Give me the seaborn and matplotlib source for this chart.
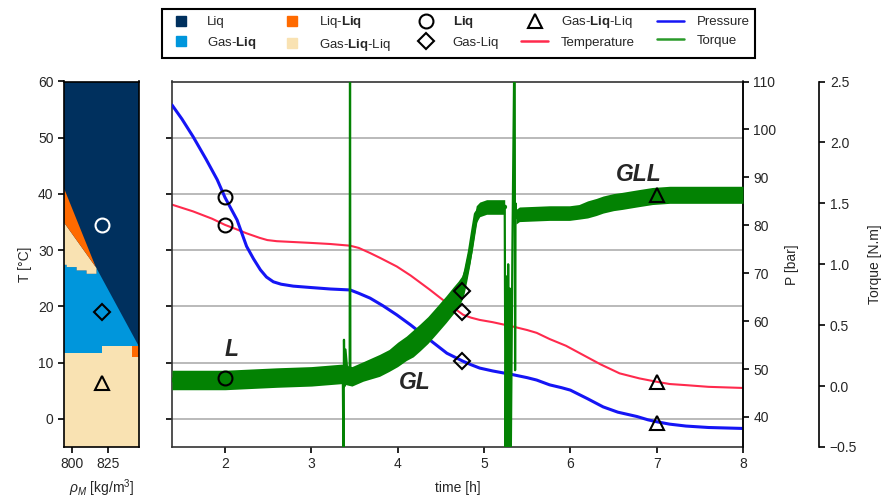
import numpy as np
import matplotlib
matplotlib.use("Agg")
import matplotlib.pyplot as plt
import seaborn as sns
from matplotlib.lines import Line2D

# ---------------- data ----------------
time_pressure = [1.386, 1.50, 1.63, 1.78, 1.91, 2.0, 2.14, 2.25, 2.33, 2.41, 2.48, 2.56, 2.65, 2.79,
                 3.0, 3.22, 3.45, 3.55, 3.68, 3.83, 3.99, 4.15, 4.37, 4.57, 4.76, 4.85, 4.95,
                 5.1, 5.34, 5.5, 5.61, 5.76, 5.9, 6.0, 6.2, 6.38, 6.55, 6.77, 6.9, 7.0, 7.15,
                 7.34, 7.6, 8.0]
pressure = [105.1, 102.2, 98.5, 93.8, 89.5, 85.8, 81.1, 75.6, 73.0, 70.7, 69.2, 68.2, 67.7, 67.3,
            67.0, 66.7, 66.5, 65.8, 64.8, 63.2, 61.3, 59.2, 56.1, 53.3, 51.6, 50.9, 50.2,
            49.6, 48.8, 48.2, 47.7, 46.7, 46.1, 45.6, 43.8, 42.1, 41.0, 40.1, 39.4, 39.0, 38.5,
            38.1, 37.8, 37.6]

time_temp = [1.386, 1.63, 1.85, 2.0, 2.12, 2.25, 2.4, 2.49, 2.6, 2.99, 3.22, 3.45, 3.55, 3.68,
             3.8, 3.99, 4.15, 4.37, 4.57, 4.76, 4.85, 4.95, 5.1, 5.34, 5.5, 5.61, 5.76, 5.95,
             6.18, 6.35, 6.57, 6.8, 7.0, 7.15, 7.34, 7.6, 8.0]
temperature = [38.1, 36.9, 35.6, 34.5, 33.8, 33.0, 32.2, 31.8, 31.6, 31.3, 31.1, 30.8, 30.4, 29.5,
               28.6, 27.1, 25.5, 23.0, 20.6, 18.5, 18.0, 17.6, 17.2, 16.4, 15.8, 15.3, 14.2, 13.0,
               11.1, 9.7, 8.1, 7.2, 6.6, 6.2, 6.0, 5.7, 5.5]

torque_t = [1.386, 2.0, 2.6, 3.0, 3.35, 3.47, 3.6, 3.79, 3.9, 4.0, 4.1, 4.18, 4.26, 4.35, 4.45,
            4.56, 4.64, 4.70, 4.74, 4.77, 4.80, 4.84, 4.88, 4.91, 4.95, 5.03, 5.24,
            5.37, 5.41, 5.76, 5.99, 6.1, 6.2, 6.3, 6.38, 6.5, 6.6, 6.77, 6.95, 7.15, 7.5, 8.0]
torque_mid = [0.05, 0.05, 0.07, 0.08, 0.10, 0.08, 0.12, 0.17, 0.21, 0.26, 0.31, 0.35, 0.40, 0.46,
              0.54, 0.63, 0.70, 0.75, 0.80, 0.86, 0.96, 1.10, 1.28, 1.41, 1.45, 1.47, 1.47,
              1.39, 1.41, 1.42, 1.42, 1.43, 1.45, 1.47, 1.49, 1.51, 1.52, 1.54, 1.56, 1.57, 1.57,
              1.57]
torque_spread = [0.08, 0.08, 0.08, 0.08, 0.08, 0.08, 0.08, 0.09, 0.09, 0.10, 0.10, 0.11, 0.11,
                 0.11, 0.11, 0.11, 0.11, 0.11, 0.10, 0.10, 0.10, 0.09, 0.08, 0.07, 0.06, 0.06,
                 0.06, 0.06, 0.06, 0.06, 0.06, 0.06, 0.07, 0.07, 0.07, 0.07, 0.07, 0.07, 0.07,
                 0.07, 0.07, 0.07]
torque_gap = 5.3

spike1_t = [3.35, 3.365, 3.372, 3.378, 3.385, 3.395, 3.42, 3.444, 3.448, 3.452, 3.47]
spike1_v = [0.10, 0.05, -0.6, 0.38, 0.0, 0.3, 0.10, 0.10, 3.0, 0.10, 0.08]
spike2_t = [5.24, 5.25, 5.26, 5.27, 5.28, 5.29, 5.30, 5.31, 5.33, 5.355, 5.36, 5.365, 5.37]
spike2_v = [1.47, -0.6, 0.9, -0.6, 1.0, -0.6, 0.8, -0.6, 1.2, 3.0, 0.13, 1.5, 1.39]

# state markers (time, value)
marker_time = {"o": 2.0, "D": 4.75, "^": 7.0}
marker_P = {"o": 85.8, "D": 51.7, "^": 38.8}
marker_T = {"o": 34.5, "D": 19.0, "^": 6.5}
marker_Q = {"o": 0.07, "D": 0.78, "^": 1.57}

region_labels = ["L", "GL", "GLL"]
region_t = [2.08, 4.20, 6.79]
region_T = [12.3, 6.4, 43.4]

# phase diagram (rho_M [kg/m3], T [degC]) region boundaries
rho_gl = [794, 794, 796.6, 796.6, 803.4, 803.4, 810.2, 810.2, 817, 817, 845.4, 847, 847]
T_gl = [-6, 27.4, 27.4, 27.0, 27.0, 26.4, 26.4, 25.8, 25.8, 26.8, 13.2, 12.4, -6]
rho_gll_low = [794, 794, 821, 821, 841, 841, 847, 847]
T_gll_low = [-6, 11.7, 11.7, 12.9, 12.9, 11.0, 11.0, -6]
rho_ll_small = [841, 847, 847, 841]
T_ll_small = [11.0, 11.0, 12.9, 12.9]
rho_gll_up = [794, 794, 816.5, 817, 817, 810.2, 810.2, 803.4, 803.4, 796.6, 796.6]
T_gll_up = [27.4, 35.2, 27.0, 26.8, 25.8, 25.8, 26.4, 26.4, 27.0, 27.0, 27.4]
rho_ll = [794, 794, 816.5]
T_ll = [35.2, 41.5, 27.0]
phase_rho = [821.0, 821.0, 821.0]
phase_T = [34.5, 19.0, 6.4]

# ---------------- style ----------------
sns.set_theme(style="ticks")
plt.rcParams["font.family"] = ["Liberation Sans", "DejaVu Sans"]
plt.rcParams["mathtext.fontset"] = "custom"
plt.rcParams["mathtext.rm"] = "Liberation Sans"
plt.rcParams["mathtext.it"] = "Liberation Sans:italic"
plt.rcParams["mathtext.bf"] = "Liberation Sans:bold"
plt.rcParams["axes.unicode_minus"] = True

C_NAVY = "#00305e"
C_BLUE = "#0096dc"
C_ORANGE = "#ff6a00"
C_WHEAT = "#f9e2b2"
C_P = "#1515f5"
C_T = "#ff2a4d"
C_Q = "#038203"
FS = 10

fig = plt.figure(figsize=(8.84, 4.99), dpi=100)
W, H = 884.0, 499.0
bot, top = 447.0, 81.5
axL = fig.add_axes([64 / W, 1 - bot / H, 75 / W, (bot - top) / H])
ax = fig.add_axes([172 / W, 1 - bot / H, (743 - 172) / W, (bot - top) / H])
axP = ax.twinx()
axQ = ax.twinx()

# ---------------- left panel: phase diagram ----------------
axL.set_facecolor(C_NAVY)
axL.fill(rho_gl, T_gl, color=C_BLUE, lw=0)
axL.fill(rho_gll_low, T_gll_low, color=C_WHEAT, lw=0)
axL.fill(rho_ll_small, T_ll_small, color=C_ORANGE, lw=0)
axL.fill(rho_gll_up, T_gll_up, color=C_WHEAT, lw=0)
axL.fill(rho_ll, T_ll, color=C_ORANGE, lw=0)
for (mk, ec, ms), r, tv in zip([("o", "white", 10), ("D", "black", 8), ("^", "black", 10)],
                               phase_rho, phase_T):
    axL.plot([r], [tv], marker=mk, ms=ms, mfc="none", mec=ec, mew=1.5, ls="")
axL.set_xlim(794.75, 846.1)
axL.set_ylim(-5, 60)
axL.set_xticks([800, 825])
axL.set_yticks([0, 10, 20, 30, 40, 50, 60])
axL.set_ylabel("T [°C]", fontsize=FS)
axL.set_xlabel(r"$\rho_M$ [kg/m$^3$]", fontsize=FS, labelpad=4)
for s in axL.spines.values():
    s.set_color("black")
    s.set_linewidth(1.2)

# ---------------- main panel ----------------
ax.set_xlim(1.386, 8)
ax.set_ylim(-5, 60)
ax.set_yticks([0, 10, 20, 30, 40, 50])
ax.set_yticklabels([])
ax.yaxis.grid(True, color="#b4b4b4", lw=1.3)
ax.set_xticks([2, 3, 4, 5, 6, 7, 8])
ax.set_xlabel("time [h]", fontsize=FS, labelpad=7)
ax.set_ylabel("")
for s in ax.spines.values():
    s.set_color("#333333")
    s.set_linewidth(1.2)

sns.lineplot(x=time_temp, y=temperature, ax=ax, color=C_T, lw=1.5,
             estimator=None, sort=False, legend=False)
sns.lineplot(x=time_pressure, y=pressure, ax=axP, color=C_P, lw=2.2,
             estimator=None, sort=False, legend=False)

tq_t = np.array(torque_t)
tq_m = np.array(torque_mid)
tq_s = np.array(torque_spread)
for seg in (tq_t < torque_gap, tq_t > torque_gap):
    axQ.fill_between(tq_t[seg], tq_m[seg] - tq_s[seg], tq_m[seg] + tq_s[seg],
                     color=C_Q, lw=0)
    sns.lineplot(x=tq_t[seg], y=tq_m[seg], ax=axQ, color=C_Q, lw=3.5,
                 estimator=None, sort=False, legend=False)
sns.lineplot(x=spike1_t, y=spike1_v, ax=axQ, color=C_Q, lw=1.6,
             estimator=None, sort=False, legend=False)
sns.lineplot(x=spike2_t, y=spike2_v, ax=axQ, color=C_Q, lw=1.6,
             estimator=None, sort=False, legend=False)

# state markers on top of everything
msz = {"o": 10, "D": 8, "^": 10}
for mk in ["o", "D", "^"]:
    for val, tr in [(marker_P[mk], axP.transData), (marker_T[mk], ax.transData),
                    (marker_Q[mk], axQ.transData)]:
        axQ.plot([marker_time[mk]], [val], marker=mk, ms=msz[mk], mfc="none",
                 mec="black", mew=1.5, ls="", transform=tr, zorder=10, clip_on=False)

for lab, tx, ty in zip(region_labels, region_t, region_T):
    axQ.text(tx, ty, lab, transform=ax.transData, fontsize=16.5, fontweight="bold",
             fontstyle="italic", ha="center", va="center", zorder=11)

axP.set_ylim(33.73, 110.0)
axP.set_yticks([40, 50, 60, 70, 80, 90, 100, 110])
axP.set_ylabel("P [bar]", fontsize=FS, labelpad=6)
axQ.set_ylim(-0.5, 2.5)
axQ.set_yticks([-0.5, 0.0, 0.5, 1.0, 1.5, 2.0, 2.5])
axQ.set_yticklabels(["\u22120.5", "0.0", "0.5", "1.0", "1.5", "2.0", "2.5"])
axQ.set_ylabel("Torque [N.m]", fontsize=FS, labelpad=8)
axQ.spines["right"].set_position(("outward", 55))
for a in (axP, axQ):
    a.set_xlim(1.386, 8)
    a.set_xlabel("")
    for k in ("left", "top", "bottom"):
        a.spines[k].set_visible(False)
    a.spines["right"].set_color("black")
    a.spines["right"].set_linewidth(1.2)

for a in (axL, ax, axP, axQ):
    a.tick_params(direction="out", length=4, width=1.2, labelsize=FS, color="black")

# ---------------- legend ----------------
handles = [
    Line2D([], [], marker="s", ls="", color=C_NAVY, ms=7),
    Line2D([], [], marker="s", ls="", color=C_BLUE, ms=7),
    Line2D([], [], marker="s", ls="", color=C_ORANGE, ms=7),
    Line2D([], [], marker="s", ls="", color=C_WHEAT, ms=7),
    Line2D([], [], marker="o", ls="", mfc="none", mec="black", mew=1.5, ms=10),
    Line2D([], [], marker="D", ls="", mfc="none", mec="black", mew=1.5, ms=8),
    Line2D([], [], marker="^", ls="", mfc="none", mec="black", mew=1.5, ms=10),
    Line2D([], [], color=C_T, lw=1.8),
    Line2D([], [], color=C_P, lw=1.8),
    Line2D([], [], color="#2a9a2a", lw=1.8),
]
labels = ["Liq", r"Gas-$\mathbf{Liq}$", r"Liq-$\mathbf{Liq}$", r"Gas-$\mathbf{Liq}$-Liq",
          r"$\mathbf{Liq}$", "Gas-Liq", r"Gas-$\mathbf{Liq}$-Liq", "Temperature",
          "Pressure", "Torque"]
leg = fig.legend(handles, labels, ncol=5, loc="center", bbox_to_anchor=(0.519, 0.933),
                 frameon=True, fancybox=False, edgecolor="black", framealpha=1,
                 fontsize=9.5, handlelength=2.0, handletextpad=1.0, columnspacing=1.7,
                 borderpad=0.4, labelspacing=0.5)
leg.get_frame().set_linewidth(1.5)

fig.savefig("out.png", dpi=100)
